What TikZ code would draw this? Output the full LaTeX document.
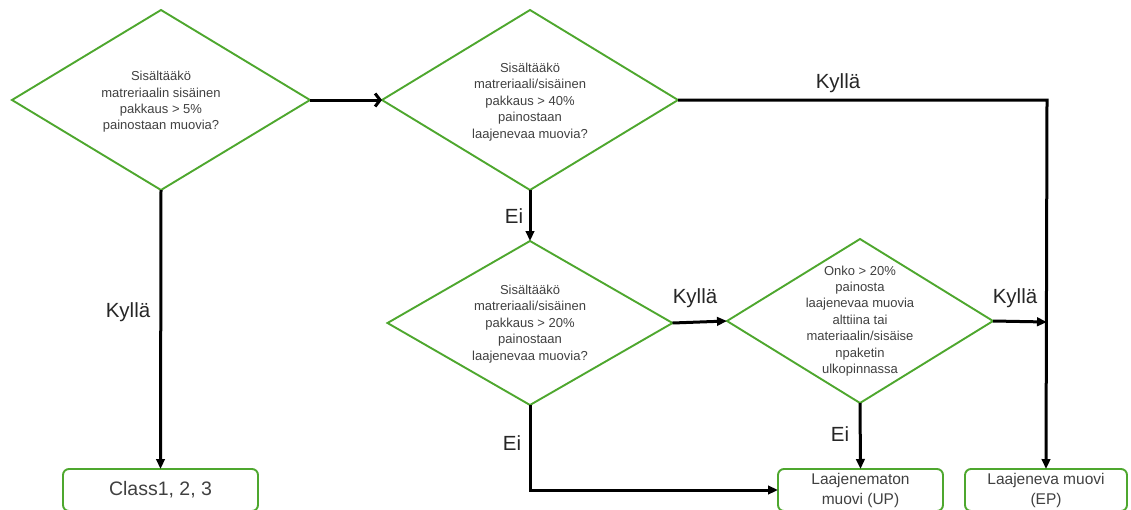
\documentclass[tikz,border=0pt]{standalone}
\usepackage{fontspec}
\setmainfont{Liberation Sans}
\usetikzlibrary{shapes.geometric,arrows.meta}
\definecolor{grn}{HTML}{4EA72E}
\definecolor{txt}{HTML}{404040}
\tikzset{
  dia/.style={shape=diamond, draw=grn, line width=1.9pt, inner sep=0pt, outer sep=0pt},
  dtext/.style={align=center, text=txt, font=\fontsize{13}{16.4}\selectfont, inner sep=0pt},
  outbox/.style={draw=grn, line width=1.9pt, rounded corners=6pt, inner sep=0pt, outer sep=0pt, text=txt, align=center},
  lbl/.style={font=\fontsize{20.5}{24}\selectfont, text=black!85, inner sep=0pt},
  conn/.style={draw=black, line width=3pt},
  arr/.style={conn, -{Triangle[length=10pt,width=8.5pt]}},
  barb/.style={conn, -{Straight Barb[length=5pt,width=13pt,line width=3pt]}}
}
\begin{document}
\begin{tikzpicture}[x=1pt,y=-1pt]
\useasboundingbox (0,0) rectangle (1131,509);
\clip (0,0) rectangle (1131,509);

% decision diamonds
\node[dia, minimum width=298pt, minimum height=180pt] (d1) at (161,100) {};
\node[dia, minimum width=296pt, minimum height=180pt] (d2) at (530,100) {};
\node[dia, minimum width=285pt, minimum height=164pt] (d3) at (530,323) {};
\node[dia, minimum width=266pt, minimum height=164pt] (d4) at (860,321) {};

\node[dtext] (t1) at (161,102) {Sisältääkö\\matreriaalin sisäinen\\pakkaus > 5\%\\painostaan muovia?};
\node[dtext] (t2) at (530,102) {Sisältääkö\\matreriaali/sisäinen\\pakkaus > 40\%\\painostaan\\laajenevaa muovia?};
\node[dtext] (t3) at (530,324) {Sisältääkö\\matreriaali/sisäinen\\pakkaus > 20\%\\painostaan\\laajenevaa muovia?};
\node[dtext] (t4) at (860,321) {Onko > 20\%\\painosta\\laajenevaa muovia\\alttiina tai\\materiaalin/sisäise\\npaketin\\ulkopinnassa};

% result boxes
\node[outbox, minimum width=195pt, minimum height=42pt, font=\fontsize{19.5}{22}\selectfont] (cls) at (160.5,490) {Class1, 2, 3};
\node[outbox, minimum width=165pt, minimum height=42pt, font=\fontsize{15.5}{20}\selectfont] (up) at (860.5,490) {Laajenematon\\muovi (UP)};
\node[outbox, minimum width=162pt, minimum height=42pt, font=\fontsize{15.5}{20}\selectfont] (ep) at (1046,490) {Laajeneva muovi\\(EP)};

% helper points
\coordinate (corner) at (1047,100);
\coordinate (join) at (1047,322);
\coordinate (bend) at (530,490);

% connectors
\draw[barb] (d1.east) -- (d2.west);
\draw[arr] (d1.south) -- (cls.north);
\draw[arr] (d2.east) -- (corner) -- (ep.north);
\draw[arr] (d2.south) -- (d3.north);
\draw[arr] (d3.east) -- (d4.west);
\draw[arr] (d4.east) -- (join);
\draw[arr] (d4.south) -- (up.north);
\draw[arr] (d3.south) -- (bend) -- (up.west);

% labels
\node[lbl] (k1) at (128,312) {Kyllä};
\node[lbl] (k2) at (838,83) {Kyllä};
\node[lbl] (k3) at (695,298) {Kyllä};
\node[lbl] (k4) at (1015,298) {Kyllä};
\node[lbl] (e1) at (514,216) {Ei};
\node[lbl] (e2) at (512,443) {Ei};
\node[lbl] (e3) at (840,434) {Ei};
\end{tikzpicture}
\end{document}
